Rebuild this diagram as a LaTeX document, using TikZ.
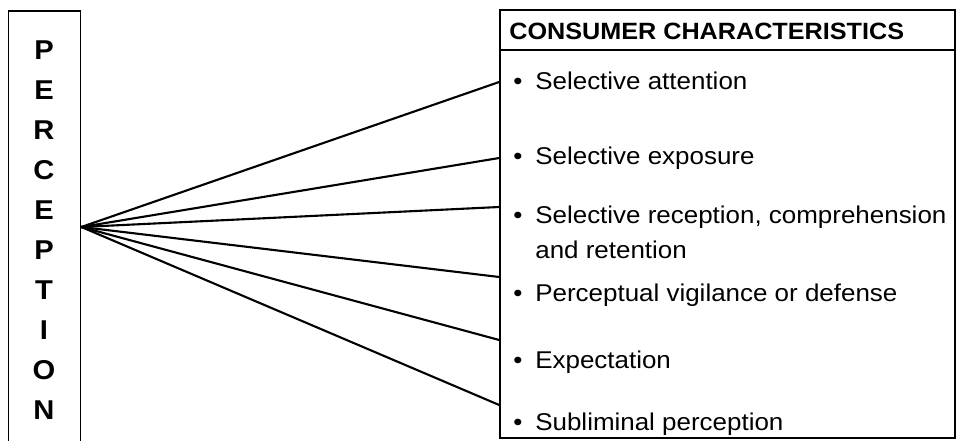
\documentclass[tikz,border=0pt]{standalone}
\usepackage{fontspec}
\setmainfont{Liberation Sans}[FakeStretch=1.07]
\begin{document}
\begin{tikzpicture}[
        box/.style={draw, line width=0.9pt, inner sep=0pt},
        letter/.style={font=\bfseries\fontsize{15.5}{17}\selectfont},
        item/.style={anchor=west, inner sep=0pt, align=left, font=\fontsize{13.8}{19.8}\selectfont},
        link/.style={line width=1.2pt}]
        \useasboundingbox (0,0) rectangle (19.12,8.8);
        \node[box, minimum width=1.44cm, minimum height=8.9cm] (percep) at (0.89,4.13) {};
        \foreach \l [count=\i] in {P,E,R,C,E,P,T,I,O,N} {
            \node[letter] (l\i) at (0.88,{8.6-0.8*\i}) {\l};
        }
        \coordinate (apex) at (percep.east |- 0,4.26);
        \node[box, minimum width=9.1cm, minimum height=8.56cm] (cons) at (14.55,4.32) {};
        \draw[line width=0.9pt] (cons.west |- 0,7.8) -- (cons.east |- 0,7.8);
        \node[item, font=\bfseries\fontsize{13.4}{15}\selectfont] (head) at (10.18,8.18) {CONSUMER CHARACTERISTICS};
        \node[item] (att) at (10.7,7.18) {\llap{\textbullet\hspace{0.26cm}}Selective attention};
        \node[item] (exp) at (10.7,5.64) {\llap{\textbullet\hspace{0.26cm}}Selective exposure};
        \node[item] (rec) at (10.7,4.15) {\llap{\textbullet\hspace{0.26cm}}Selective reception, comprehension\\and retention};
        \node[item] (vig) at (10.7,2.9) {\llap{\textbullet\hspace{0.26cm}}Perceptual vigilance or defense};
        \node[item] (expt) at (10.7,1.56) {\llap{\textbullet\hspace{0.26cm}}Expectation};
        \node[item] (sub) at (10.7,0.32) {\llap{\textbullet\hspace{0.26cm}}Subliminal perception};
        \foreach \y [count=\i] in {7.16,5.64,4.66,3.26,2.0,0.7} {
            \coordinate (e\i) at (cons.west |- 0,\y);
            \draw[link] (apex) -- (e\i);
        }
    \end{tikzpicture}
\end{document}
